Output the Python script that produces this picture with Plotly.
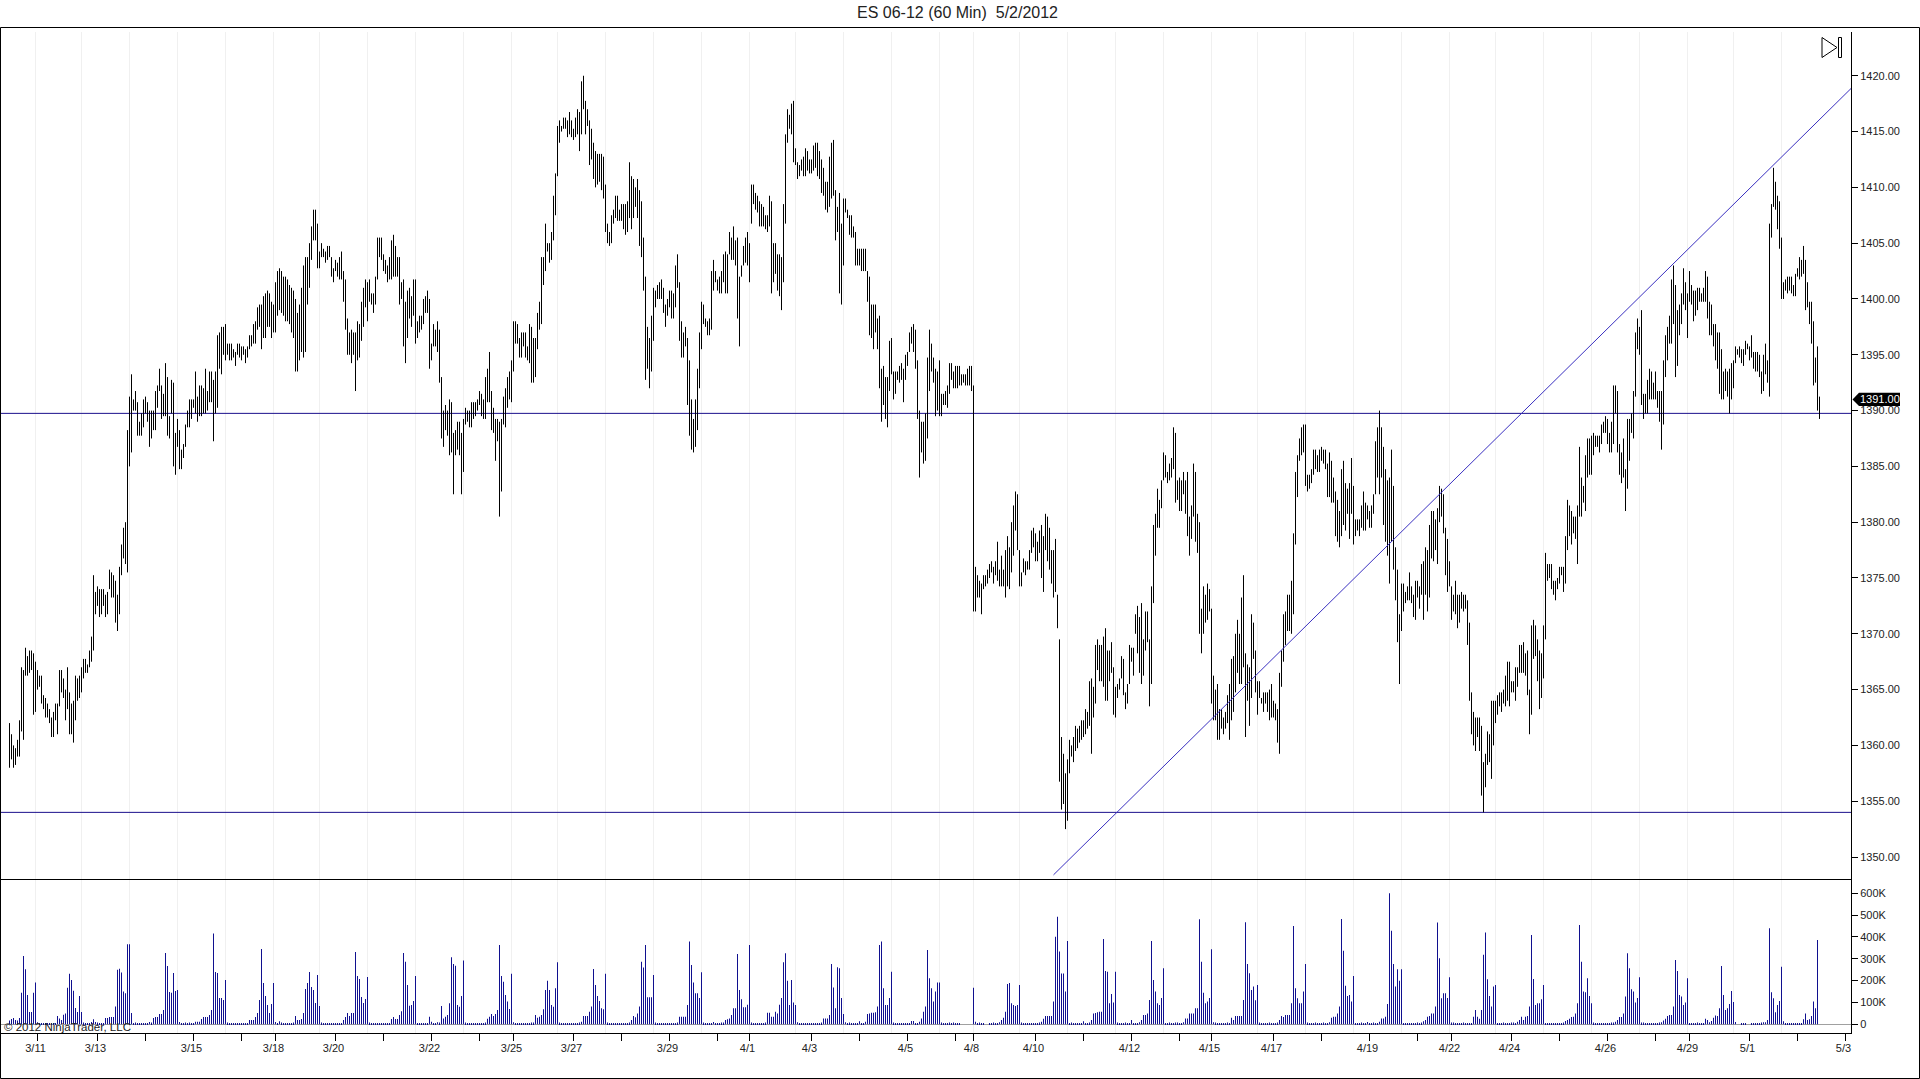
import plotly.graph_objects as go

W, H = 1920, 1079

title = "ES 06-12 (60 Min)\u00a0\u00a05/2/2012"

# hourly bar highs (10 per row)
highs = [
    1362,1361,1360,1359.75,1360.5,1362.25,1367,1366.75,1368.75,1368,
    1368.5,1368.5,1368.25,1367.5,1366.75,1366.25,1366.25,1364.5,1364.25,1363.75,
    1363.25,1362.5,1363,1363.75,1363.75,1366.75,1366.75,1366,1365,1367,
    1364.75,1363.75,1364,1366.25,1366,1366.25,1367,1367.75,1367.75,1367.25,
    1368.5,1369.75,1375.25,1373.75,1374.25,1374,1374,1374,1373.5,1373.75,
    1375.75,1375.5,1375.25,1374.75,1373.5,1376,1378,1379.5,1380,1388.25,
    1391.25,1393.25,1391,1391.75,1390.75,1389,1389.75,1391,1391.25,1390.75,
    1390,1390,1390,1391.75,1392.25,1393.75,1392.25,1391.5,1394.25,1393,
    1389.5,1392.75,1392.5,1388,1389.25,1388.25,1386.5,1387,1388.75,1390,
    1391,1391,1391,1393.5,1391.25,1392.25,1392.25,1392,1393.75,1391.75,
    1393.5,1393.5,1392.75,1393.5,1396.75,1397,1397.5,1397.5,1397.75,1396,
    1396,1396,1395.5,1395.25,1396,1396,1395.75,1395.75,1395.5,1395.75,
    1396.75,1396.75,1397.75,1398,1399.25,1399.5,1399.5,1400.25,1400.5,1400.75,
    1400.5,1399.75,1399.5,1401.5,1402.5,1402.75,1402.5,1402,1402,1401.75,
    1401.25,1401,1400.75,1400,1398.75,1399.5,1401,1403,1403.75,1403.75,
    1405,1406.5,1408,1408,1406.75,1404.25,1405,1404.5,1404.25,1404.75,
    1404.75,1403.75,1402.75,1403.5,1403.25,1403.75,1404.25,1402.5,1401.75,1398.25,
    1397,1397.25,1397,1397,1398,1397.75,1399.75,1401,1401.75,1401.5,
    1401.75,1400.5,1400.5,1402,1405.5,1405.5,1405.5,1404,1403.5,1403,
    1403.75,1405.25,1405.75,1404.75,1403.75,1403.75,1401.5,1401.75,1399.75,1400.75,
    1401,1400.25,1401.75,1401.75,1398,1398.5,1398.5,1400,1400.25,1400.75,
    1400,1396,1397.75,1397.25,1398,1397.25,1393,1390,1390.5,1390,
    1391,1390.75,1388,1388.25,1389,1389,1388,1389.25,1390.25,1390,
    1390,1390.75,1390.75,1390.75,1391,1391.75,1391.5,1391,1393,1393.75,
    1395.25,1391.75,1390.25,1389.25,1389.25,1389,1389.25,1391.25,1392,1393,
    1393.5,1394.5,1398,1398,1397.75,1396.5,1397,1397,1397,1395.75,
    1397.75,1397.5,1396.5,1396.5,1398.75,1399.75,1403.75,1403.75,1406.75,1405,
    1405,1406,1409.25,1411.25,1415.5,1416,1415.5,1416.25,1416.25,1416,
    1416.75,1416,1415.25,1416.25,1417,1416.75,1419.5,1420,1417.75,1417,
    1416,1415.25,1414,1413.25,1413,1413,1413,1412.75,1410.25,1406.75,
    1406,1407.5,1408,1409.25,1409.25,1408,1408.5,1408.5,1408.5,1408.75,
    1412.25,1411,1410.75,1410,1410.75,1409.75,1408.75,1405.5,1402,1397.5,
    1396.5,1398.5,1401,1400.75,1401.25,1401.5,1401.75,1401,1399.5,1400,
    1400.75,1400.75,1400.5,1403,1404,1401.5,1398,1397,1397.5,1396.5,
    1394.5,1391,1389.25,1391,1393.75,1397,1399.75,1399.5,1398.25,1398,
    1398.25,1402.5,1403.5,1402.5,1401.75,1402,1402.5,1404,1404.25,1404,
    1406,1405.5,1406.5,1405.25,1405.5,1402,1403,1404.75,1405.5,1406,
    1405,1410.25,1410.25,1409.5,1409.25,1408.75,1408.5,1408.25,1407.5,1407.5,
    1409.25,1408.75,1405,1405,1404,1404,1403.75,1408.5,1414.75,1417,
    1416.5,1417.5,1417.75,1413.5,1412.25,1412,1412.5,1412.75,1413.5,1413.25,
    1412.5,1412.5,1413.75,1414,1414,1413.25,1412.5,1411.75,1410.5,1410.5,
    1412.75,1414,1414.25,1409.75,1408.25,1409.5,1406.75,1409,1409,1408,
    1407.5,1407.5,1406.5,1406,1404.5,1404.5,1404.5,1404.5,1404.5,1402.5,
    1402,1399.5,1399.5,1399.5,1398.25,1398.5,1393.75,1394,1393,1393,
    1396.25,1396.5,1393.5,1393.5,1393.5,1394,1394.25,1393.75,1395,1395.25,
    1397,1397.5,1397.75,1397.25,1394.5,1390,1389,1389,1389.75,1394.75,
    1397.25,1396,1394.75,1393.75,1393.5,1394.5,1391.5,1391.5,1391.75,1392.25,
    1394.25,1394.25,1393.5,1394,1394,1394,1393.25,1393.25,1393.25,1393.75,
    1394,1394,1392.25,1376,1375.25,1374.75,1374.5,1375.25,1375.25,1375.75,
    1376.25,1376.5,1376,1376.5,1378.25,1375.75,1377,1375.75,1377.5,1378.75,
    1377.75,1380,1381.5,1382.75,1382.5,1377.5,1375.5,1376.75,1376.5,1376.5,
    1377.5,1379.25,1379.5,1379,1378.25,1379.25,1379.75,1378.75,1380.75,1380.5,
    1379.5,1377.5,1377.5,1378.5,1373.5,1369.5,1360.75,1359.25,1357.5,1358.75,
    1360.5,1360,1360.75,1361.75,1361.5,1361.75,1362.25,1362.25,1363.25,1363,
    1365.75,1366,1365.25,1369,1369.5,1369,1369,1369.75,1370.5,1368.5,
    1368.5,1369.25,1367,1365.25,1365.5,1366,1368,1367.75,1364.75,1365.5,
    1369,1368.75,1368.75,1371.75,1372.5,1371.5,1372.75,1369.5,1372,1372,
    1369.5,1374.25,1379.75,1380.75,1383,1382,1383.75,1386.25,1386,1384.5,
    1385.25,1385.75,1388.5,1388,1383.75,1384,1383.75,1384.5,1383.75,1384.5,
    1380.5,1381.5,1385.25,1384.5,1380.75,1380,1372.25,1374.25,1373.5,1374.5,
    1374,1372.25,1366.25,1365,1365.5,1363.25,1363.25,1362.5,1363,1364.5,
    1365.5,1367.75,1368,1370,1371.25,1370,1373.25,1375.25,1368.25,1367.25,
    1367,1371.75,1371,1368.5,1365.75,1365.75,1364.25,1364.75,1364.75,1364.75,
    1365,1365.5,1364,1363.75,1363.25,1366.5,1368.5,1371.75,1372,1373.5,
    1373.5,1374.75,1379,1384.5,1386,1387.5,1388.5,1388.75,1388.75,1384.25,
    1384.25,1384.75,1386.5,1386.5,1386,1386.5,1386.75,1386.5,1386.5,1385.25,
    1386.25,1385.5,1384,1382.75,1382,1381,1384.75,1385.5,1383.5,1383,
    1383.5,1385.75,1383.25,1380.25,1380.25,1380.25,1381.5,1382.75,1381.75,1381.5,
    1381,1381.5,1382.5,1387.25,1388.5,1390,1388.5,1386.75,1384.75,1383.75,
    1384,1386.5,1383.25,1377.75,1375.75,1371.75,1374.5,1374.5,1373.75,1374.25,
    1375.5,1374.25,1373.5,1374.75,1374.75,1374.25,1376.25,1376.5,1377.75,1377.5,
    1379.75,1381,1381,1380.25,1381.25,1383.25,1383,1382.5,1379.5,1378.5,
    1376.5,1374.25,1373.5,1374.75,1373.5,1373.5,1373.75,1373.5,1373.5,1373,
    1371,1364.75,1363,1362.5,1362.5,1362.5,1361.75,1358.5,1359.25,1361.25,
    1361,1364,1364,1364,1364.5,1364.75,1364.75,1365,1366.25,1367.5,
    1367.5,1365.75,1365.75,1367,1367,1369,1369,1369.25,1368.25,1368.5,
    1365,1370.75,1371.25,1370.75,1369.5,1368.5,1368.25,1370.75,1377.25,1376.25,
    1376.25,1376.25,1374.75,1374.75,1375,1376,1376,1376,1378.75,1382,
    1381.5,1381,1380.5,1380.5,1381.5,1386.75,1384,1383.25,1386,1387.5,
    1387.5,1387.75,1388,1387.75,1387.75,1387.75,1388.75,1389,1389.5,1389.25,
    1388,1389,1392.25,1392.25,1391.75,1387,1386.25,1387.5,1384.75,1389.25,
    1389.25,1389.75,1391.75,1397,1398.25,1397.5,1399,1391.5,1391.5,1392.75,
    1393.75,1393.5,1392.5,1393.5,1391.75,1391.75,1391.75,1394.5,1396.75,1397.5,
    1398.5,1401.75,1403,1401.25,1399,1399.5,1400.5,1402.75,1401.5,1400.5,
    1402.5,1401.25,1400.75,1400.75,1401,1401,1400.5,1401,1402.5,1402,
    1399.75,1399.5,1397.75,1397.75,1397,1397,1395.5,1393.5,1393.75,1393.5,
    1393.75,1394.25,1394.5,1395.75,1395.5,1395.75,1395.5,1395.5,1396.25,1396,
    1395.75,1396.75,1395.25,1395.25,1395.25,1395,1393.5,1395,1396,1394.5,
    1406.75,1408.5,1411.75,1410.5,1409.25,1408.75,1405.5,1401.5,1401.75,1402,
    1402,1402,1401.25,1402.25,1402.75,1403.75,1403.5,1404.75,1403.5,1401.5,
    1399.75,1399.75,1398,1394.75,1395.75,1391.25,
]

# hourly bar lows, same order as highs
lows = [
    1358,1358.75,1358,1358.25,1359,1359,1361.25,1360.5,1366.25,1366.25,
    1366.5,1366.75,1362.75,1363,1365,1365.25,1363.75,1363.25,1362.5,1362.5,
    1362,1360.75,1360.75,1362.25,1361,1363.5,1364.75,1364.25,1362.25,1363.25,
    1361,1361,1360.25,1362.25,1364,1364.25,1364.75,1366,1366.5,1366.5,
    1367,1367.5,1368.5,1371.75,1372.5,1371.5,1371.75,1372.5,1371.5,1371.75,
    1374,1373.25,1373.25,1371,1370.25,1371.75,1375.25,1376.75,1376.25,1375.5,
    1385,1386.25,1390,1390,1387.75,1387.75,1387.75,1388.5,1389.75,1389,
    1386.75,1387.5,1388.25,1388.25,1390.25,1391.75,1389.25,1389.5,1389.5,1387.75,
    1387.5,1389.75,1385,1384.25,1386.75,1384.75,1384.75,1385.75,1386.75,1388.5,
    1388.5,1389.25,1390.25,1389.75,1389,1389.5,1389.5,1389.75,1389.75,1390,
    1390.75,1390.75,1387.25,1389.75,1390.25,1393.75,1393.25,1395,1394.5,1395,
    1394.5,1394.5,1394.75,1394,1395,1394.75,1394.5,1395,1394.25,1394.75,
    1395.5,1395.75,1396,1396,1397.25,1397.5,1395.5,1396.5,1396.5,1397.5,
    1397.5,1396.5,1397,1397,1398.5,1399,1398.75,1398.5,1398,1398,
    1397.75,1397,1396.5,1393.5,1393.5,1394.5,1395.25,1394.75,1395.25,1399.5,
    1401,1403.5,1405.25,1405.25,1402.75,1402.75,1403.75,1403.75,1403.25,1403.5,
    1403.75,1402,1401.5,1402.5,1402,1401.75,1401.75,1399.75,1397.25,1395,
    1395,1394.25,1395,1391.75,1394.5,1394.75,1396.25,1397.5,1399.25,1398,
    1399.75,1399.5,1398.75,1399.5,1401.75,1403.75,1403.5,1402.5,1402.25,1401.5,
    1401.75,1401.75,1402,1402,1402,1399.5,1400,1395.75,1394.25,1396.5,
    1398.25,1397.5,1398.5,1396,1396.5,1397,1397.25,1397.75,1398.75,1398.75,
    1393.75,1394.5,1395.75,1395.75,1395.25,1392.5,1387.5,1386.75,1388.25,1387.75,
    1386,1386.25,1382.5,1386,1386.5,1386,1382.5,1384.5,1388.75,1389,
    1388.5,1388.5,1389.25,1389.5,1390,1390.5,1389.5,1389.25,1389.25,1390.75,
    1390.75,1388.25,1388,1385.5,1387.25,1380.5,1382.75,1388.75,1388.5,1390.25,
    1391,1390.75,1393.5,1396,1396,1394.75,1394.75,1395.75,1394.75,1394.5,
    1394.25,1392.5,1392.5,1393,1395.5,1397.25,1397.75,1401.25,1402.5,1404.25,
    1403.25,1403.5,1405.25,1407.5,1411,1414,1415,1415.25,1415.25,1414.5,
    1414.75,1414.5,1414.25,1414.5,1414.75,1413.25,1414.75,1417,1414.75,1415.5,
    1412,1412.5,1410.75,1410,1410.25,1410.5,1409.75,1409,1406,1405,
    1404.75,1405,1406.75,1407.25,1407,1407,1407,1406.25,1405.75,1406,
    1407.25,1406.25,1407.25,1408.25,1407.25,1404.75,1403.75,1400.75,1392.75,1393.75,
    1392,1393.5,1396.25,1399.25,1400,1400,1400,1398.75,1397.5,1398.5,
    1399.25,1398.25,1398.25,1399.25,1401,1396.25,1394.75,1394.75,1395.75,1390.5,
    1387.75,1386.5,1386.25,1386.75,1388.25,1392,1395.5,1397.75,1397.5,1396.75,
    1396.75,1397.25,1400.75,1401.5,1400.75,1400.5,1400.5,1401.5,1400.5,1400.5,
    1404,1403.5,1403.5,1403,1398.25,1395.75,1402,1403,1403.25,1403,
    1401.5,1406.75,1408.5,1408,1407.75,1406.5,1406.5,1406.5,1406.25,1406,
    1406.5,1400.5,1401.5,1402.25,1400.75,1400.25,1399,1401.5,1406.75,1414,
    1415.25,1414.75,1412.25,1412,1410.75,1411,1411.5,1411,1411,1411.5,
    1411.25,1411.25,1411.5,1411.75,1411,1410.75,1409.5,1409.25,1408,1407.75,
    1408.25,1409,1409.25,1405.25,1406,1400.5,1399.5,1403,1407.75,1407.25,
    1405.75,1405.5,1405.5,1403,1403,1403,1402.5,1402.5,1402.5,1399.75,
    1396.75,1396.5,1395.5,1397,1395.5,1392,1389,1390.5,1389.25,1388.5,
    1391.75,1393.25,1391,1391.5,1392.75,1392.5,1392.75,1390.75,1392.75,1394,
    1395.25,1396,1395.25,1393.75,1389.25,1384,1386.25,1385.25,1385.5,1387.5,
    1391.75,1393.5,1392.5,1389.5,1390,1389.5,1389.5,1390.5,1390.5,1390.25,
    1391.5,1392.75,1392,1392,1392,1392.25,1392.25,1392.5,1392.25,1392.25,
    1392.25,1391.75,1372,1372,1373.25,1373.25,1371.75,1374,1374.25,1374.5,
    1375,1375.5,1374.5,1375.25,1374.75,1374.25,1374.25,1374.25,1373.25,1374.25,
    1374,1375.5,1377,1379.25,1377.5,1374.25,1374.25,1375.5,1375.25,1375.75,
    1375.75,1377.25,1377.75,1376.5,1376.5,1377.25,1375,1373.75,1377.5,1376.5,
    1375.75,1374.5,1373.25,1373.75,1370.5,1356.75,1354.25,1354.75,1352.5,1353.25,
    1357.5,1359,1358.5,1359.5,1359.75,1360.25,1360.5,1360.75,1361,1361.5,
    1361.75,1359.25,1362.5,1363.75,1366.75,1365.75,1365.75,1365.25,1364,1364,
    1365.75,1366.5,1362.75,1362.5,1364.25,1365,1366,1364.5,1363.25,1363.75,
    1365.5,1367.5,1366.25,1370,1368.25,1366.5,1365.5,1366.25,1368.5,1369.25,
    1363.5,1365.5,1372.75,1377,1379.5,1379.5,1381.25,1383.75,1384,1383.5,
    1383.75,1384,1384.75,1381.75,1382,1381,1381,1382.5,1380.75,1378.75,
    1377,1378.5,1380.5,1378.25,1377.25,1370,1368.25,1370,1371,1371.25,
    1372,1363.75,1362.25,1362.25,1360.5,1360.5,1361.5,1361,1361.5,1362,
    1360.5,1362.25,1363,1364.75,1366.5,1365.5,1365.5,1367,1360.75,1364,
    1361.75,1364.25,1367.75,1364.75,1362.75,1364.25,1363.75,1363,1363.75,1363,
    1362.25,1362.5,1362.5,1362.25,1360.25,1359.25,1365.25,1367.5,1369,1370.25,
    1370.25,1370,1371.75,1378,1382.25,1385.5,1386,1386.25,1383.25,1382.75,
    1383,1383.5,1384.25,1384.75,1384.5,1384.5,1385.5,1385.25,1384.75,1382.25,
    1382.25,1381.75,1381.75,1378.75,1378.25,1377.75,1378.75,1379.75,1379.25,1380.75,
    1378.5,1380.75,1378,1378.75,1379.25,1378.75,1379.5,1379.25,1379.25,1380.25,
    1379.5,1379.5,1380.75,1382.5,1384,1382.5,1384,1379.75,1378.25,1377,
    1374.5,1378.25,1375.75,1373,1369.25,1365.5,1370.25,1372,1372.75,1373,
    1373,1372.75,1371.5,1371.25,1373.25,1372.25,1373.5,1371.25,1373.5,1372,
    1373.25,1376.75,1376.5,1377.5,1376.25,1380,1380.5,1379,1375.25,1373.75,
    1374.25,1371.25,1372,1371.75,1370.5,1371,1372.25,1372,1372.25,1369,
    1364,1361,1360,1359.5,1360.75,1359.5,1355.5,1354,1356.25,1358.25,
    1358.5,1357,1360,1362,1362.75,1363.5,1363,1363.75,1363.5,1364,
    1363.5,1364.75,1364.75,1364,1365.25,1366.5,1366.5,1366.5,1366.25,1364.5,
    1361,1362.75,1367.75,1368,1365.75,1363.25,1364.25,1366,1369.5,1374.75,
    1375,1374,1373.5,1373,1374,1374.5,1375.25,1373.75,1374.5,1377.5,
    1378.75,1378,1379,1378.5,1376.25,1380.5,1380.5,1381.75,1381,1384,
    1384.25,1384.25,1386,1386.75,1386.75,1386.25,1387,1388,1388,1387,
    1386.25,1386.25,1387,1389.75,1386.25,1384.25,1383.5,1384,1381,1383,
    1385.5,1388,1387.5,1391.25,1395.5,1395,1390.5,1389.25,1389.75,1389.75,
    1391,1391,1391,1391,1390.25,1389,1386.5,1388.75,1393,1394.5,
    1396,1396,1397.75,1393,1394,1396.75,1397.75,1399.5,1399,1396.5,
    1399.75,1399.5,1398,1398.5,1399,1399.75,1399.75,1399.75,1399.75,1398.25,
    1396.75,1396.75,1395.75,1394.5,1393.75,1391.5,1391,1391,1391.75,1391.25,
    1389.75,1391,1392,1394.25,1395,1394.75,1394.25,1394,1395,1395.5,
    1394.5,1394.75,1393.75,1393.5,1393.5,1393,1391.5,1391.75,1393.25,1392.5,
    1391.25,1405.5,1408.25,1408,1406.25,1404.5,1400,1400,1400.75,1400.5,
    1400.75,1400.5,1400.25,1400.25,1402,1401.75,1402,1402.25,1399,1399.25,
    1397.75,1396,1392.25,1392.5,1390,1389.25,
]

# volume in thousands, one row per session (row ends on the session's last bar)
volumes = [
    17,24,29,20,17,29,145,313,252,134,56,56,145,191,
    10,4,5,4,5,5,4,5,4,5,38,27,20,44,50,168,231,203,154,75,56,130,56,
    8,3,3,3,11,23,11,8,5,3,3,29,29,34,34,34,81,250,255,237,150,142,367,367,
    52,5,8,5,5,5,5,5,5,11,8,29,34,34,47,47,66,327,267,148,145,235,153,157,
    11,5,5,8,5,8,5,3,12,12,12,24,34,34,34,43,66,416,240,235,120,120,111,203,
    8,5,5,5,5,5,5,5,5,5,5,20,20,20,34,52,111,345,189,130,88,52,93,189,
    11,5,14,8,5,5,5,3,5,8,38,20,20,24,52,162,189,240,171,157,98,226,84,
    8,5,5,5,5,5,5,5,5,5,5,20,34,52,38,52,52,331,221,208,125,98,116,217,
    8,5,5,5,5,5,5,5,5,5,5,24,34,24,24,43,60,327,287,180,85,88,107,221,
    6,5,5,5,5,5,35,12,5,5,10,8,84,27,35,43,96,307,276,268,88,80,130,292,
    8,5,5,5,5,5,5,5,5,5,8,25,35,47,38,47,66,363,221,195,134,104,70,231,
    10,5,5,5,5,5,5,5,5,8,8,43,30,35,43,69,157,199,157,88,80,165,284,
    8,5,5,5,5,5,5,5,5,5,8,12,38,38,38,58,81,253,180,130,107,73,69,231,
    8,5,5,5,5,5,5,5,5,5,5,8,20,38,32,50,81,287,260,363,124,124,124,226,
    8,5,5,5,5,5,5,5,5,5,5,8,35,35,35,35,88,379,272,192,142,142,120,238,
    8,5,5,5,5,11,5,5,5,8,8,20,23,27,43,73,73,322,157,115,78,78,90,363,
    8,5,5,5,5,5,5,8,53,53,35,35,58,50,90,120,284,325,199,88,203,100,88,
    10,5,5,5,5,5,5,5,5,5,5,5,8,27,27,27,43,276,169,73,261,257,120,47,
    10,5,8,5,5,5,5,14,5,5,12,47,50,53,53,55,81,363,379,165,88,88,120,241,
    8,5,5,5,5,5,5,5,5,15,15,5,5,12,27,58,81,340,211,165,104,150,191,192,
    8,5,5,5,8,5,8,3,3,3,0,0,0,0,0,0,168,
    12,6,8,5,5,0,0,5,5,8,5,5,10,20,30,58,185,189,96,88,84,88,180,
    8,5,5,5,5,5,5,5,5,8,12,25,38,38,38,38,104,401,493,333,233,233,150,382,
    6,8,5,5,5,5,5,14,5,5,8,20,50,52,55,58,58,391,244,241,96,139,100,241,
    8,5,5,5,8,5,5,20,5,5,5,10,20,43,43,50,111,382,203,150,96,88,120,257,
    5,5,8,5,5,8,8,5,5,10,27,27,50,50,50,73,73,481,287,145,96,104,120,344,
    10,8,5,5,5,5,5,8,5,30,20,38,38,38,38,111,467,276,234,157,173,110,180,
    8,5,5,5,5,8,5,5,5,8,20,38,33,43,43,43,96,450,165,119,96,96,150,276,
    8,5,5,5,8,5,5,5,8,5,5,10,30,35,35,50,81,482,337,177,130,134,105,221,
    5,5,5,8,5,5,11,5,5,8,5,5,12,27,27,35,93,600,429,276,173,252,200,252,
    5,5,5,5,5,5,5,8,5,8,14,20,35,38,50,50,81,466,302,119,142,142,120,215,
    8,8,5,5,5,5,8,5,5,5,5,35,66,35,25,66,318,420,206,130,81,173,180,
    6,5,5,8,5,5,5,8,8,5,12,20,35,20,35,38,81,409,208,88,96,96,115,180,
    5,5,5,5,5,5,5,5,5,8,15,20,25,33,35,50,96,455,287,150,147,211,130,96,
    8,5,5,5,5,5,5,5,5,8,8,12,20,33,33,50,127,325,257,160,150,100,120,215,
    8,8,5,5,5,5,5,5,5,8,10,18,25,38,43,43,81,295,244,134,127,88,100,211,
    5,5,5,5,8,5,5,5,25,20,10,15,30,40,38,73,267,134,66,73,93,153,102,
    11,0,0,3,3,3,0,0,3,3,3,5,5,8,10,10,20,440,147,119,55,89,107,264,
    14,5,5,5,5,5,5,5,5,5,23,50,20,23,38,105,73,386,0,
]

assert len(highs) == len(lows) == len(volumes)

last_close = 1391.0
level_prices = [1389.75, 1354.0]
trend_bars = [522, 921]
trend_prices = [1348.4, 1418.9]

price_ticks = [1350, 1355, 1360, 1365, 1370, 1375, 1380, 1385, 1390, 1395, 1400, 1405, 1410, 1415, 1420]
volume_ticks = [0, 100, 200, 300, 400, 500, 600]
volume_tick_labels = ["0", "100K", "200K", "300K", "400K", "500K", "600K"]

# bar numbers where the date axis has a tick / a faint session line
date_tick_bars = [14, 44, 68, 92, 116, 133, 163, 187, 211, 235, 252, 282, 306, 330, 354, 370, 401, 425, 449, 473,
                  482, 513, 537, 561, 585, 601, 632, 656, 680, 704, 721, 751, 775, 799, 823, 840, 870, 894, 918]
date_tick_labels = ["3/11", "3/13", "", "3/15", "", "3/18", "3/20", "", "3/22", "", "3/25", "3/27", "", "3/29", "",
                    "4/1", "4/3", "", "4/5", "", "4/8", "4/10", "", "4/12", "", "4/15", "4/17", "", "4/19", "",
                    "4/22", "4/24", "", "4/26", "", "4/29", "5/1", "", "5/3"]
session_bars = [13, 36, 60, 84, 108, 132, 155, 179, 203, 227, 251, 274, 298, 322, 346, 370, 393, 417, 441, 465,
                482, 505, 529, 553, 577, 601, 624, 648, 672, 696, 720, 743, 767, 791, 815, 839, 862, 886]

FONT = "Liberation Sans, Arial, sans-serif"
INK = "#222222"
NAVY = "#1a0f8c"
GRID = "#f0f0f0"
AXIS_X = 1851  # right axis position in page pixels


def px(x):
    return x / W


def py(y):
    return 1 - y / H


x_range = [-4.75, 920.75]

# one line per bar, high to low
bar_x, bar_y = [], []
for i, (hi, lo) in enumerate(zip(highs, lows)):
    bar_x += [i, i, None]
    bar_y += [lo, hi, None]

fig = go.Figure()

for level in level_prices:
    fig.add_trace(go.Scatter(x=x_range, y=[level, level], mode="lines",
                             line=dict(color=NAVY, width=1), hoverinfo="skip", showlegend=False))

fig.add_trace(go.Scatter(x=bar_x, y=bar_y, mode="lines", connectgaps=False,
                         line=dict(color="#000000", width=1), hoverinfo="skip", showlegend=False))

fig.add_trace(go.Scatter(x=trend_bars, y=trend_prices, mode="lines",
                         line=dict(color="#3a30c0", width=1), hoverinfo="skip", showlegend=False))

# narrow bars so each one lands on a single pixel column
fig.add_trace(go.Bar(x=list(range(len(volumes))), y=volumes, width=0.4, xaxis="x2", yaxis="y2",
                     marker=dict(color="#10108f", line=dict(width=0)), hoverinfo="skip", showlegend=False))

shapes = [
    # outer frame
    dict(type="rect", xref="paper", yref="paper", x0=px(0.5), x1=px(1919.5), y0=py(1078.5), y1=py(27.5),
         line=dict(color="#000000", width=1)),
    # "go to last bar" button
    dict(type="path", xref="paper", yref="paper",
         path=f"M {px(1822)} {py(37.5)} L {px(1837)} {py(47.5)} L {px(1822)} {py(57.5)} Z",
         line=dict(color="#000000", width=1)),
    dict(type="rect", xref="paper", yref="paper", x0=px(1838.5), x1=px(1841.5), y0=py(57.5), y1=py(37.5),
         line=dict(color="#000000", width=1)),
    # last price flag
    dict(type="path", xref="paper", yref="y", fillcolor="#000000", line=dict(width=0),
         path=f"M {px(1852.5)} {last_close} L {px(1859)} {last_close + 0.6} L {px(1900)} {last_close + 0.6} "
              f"L {px(1900)} {last_close - 0.6} L {px(1859)} {last_close - 0.6} Z"),
]

annotations = [
    dict(text=title, xref="paper", yref="paper", x=px(957), y=py(12.5), showarrow=False,
         xanchor="center", yanchor="middle", font=dict(family=FONT, size=16, color=INK)),
    dict(text=f"{last_close:.2f}", xref="paper", yref="y", x=px(1880), y=last_close, showarrow=False,
         xanchor="center", yanchor="middle", font=dict(family=FONT, size=11, color="#ffffff")),
    dict(text="\u00a9 2012 NinjaTrader, LLC", xref="paper", yref="paper", x=px(2), y=py(1027), showarrow=False,
         xanchor="left", yanchor="middle", font=dict(family=FONT, size=11.5, color="#222222")),
]

fig.update_layout(
    width=W, height=H,
    margin=dict(l=0, r=0, t=0, b=0),
    paper_bgcolor="#ffffff", plot_bgcolor="#ffffff",
    showlegend=False,
    font=dict(family=FONT, size=11, color=INK),
    shapes=shapes,
    annotations=annotations,
    xaxis=dict(domain=[0, px(AXIS_X)], range=x_range, anchor="y", showline=False, zeroline=False,
               tickmode="array", tickvals=session_bars, showticklabels=False, ticks="",
               showgrid=True, gridcolor=GRID, gridwidth=1),
    yaxis=dict(domain=[py(880), py(32)], range=[1347.94, 1423.92], side="right", anchor="x",
               tickmode="array", tickvals=price_ticks, tickformat=".2f",
               ticks="outside", ticklen=6, tickcolor="#000000", tickwidth=1,
               showline=True, linecolor="#000000", linewidth=1, showgrid=False, zeroline=False,
               tickfont=dict(family=FONT, size=11, color=INK)),
    xaxis2=dict(domain=[0, px(AXIS_X)], range=x_range, anchor="y2", side="bottom", zeroline=False,
                tickmode="array", tickvals=date_tick_bars, ticktext=date_tick_labels,
                ticks="outside", ticklen=7, tickcolor="#000000", tickwidth=1,
                showline=True, linecolor="#000000", linewidth=1, showgrid=False, mirror=True,
                tickangle=0, tickfont=dict(family=FONT, size=11, color=INK),
                ticklabelstandoff=-2, ticklabelshift=-2,
                minor=dict(tickmode="array", tickvals=session_bars, showgrid=True, gridcolor=GRID,
                           gridwidth=1, ticks="")),
    yaxis2=dict(domain=[py(1033), py(880)], range=[-39.8, 660.9], side="right", anchor="x2",
                tickmode="array", tickvals=volume_ticks, ticktext=volume_tick_labels,
                ticks="outside", ticklen=6, tickcolor="#000000", tickwidth=1,
                showline=True, linecolor="#000000", linewidth=1, showgrid=False,
                zeroline=True, zerolinecolor="#a0a0a0", zerolinewidth=1,
                tickfont=dict(family=FONT, size=11, color=INK)),
)

fig.write_html("out.html", config=dict(displayModeBar=False),
               post_script="document.body.style.margin='0';document.documentElement.style.overflow='hidden';")
